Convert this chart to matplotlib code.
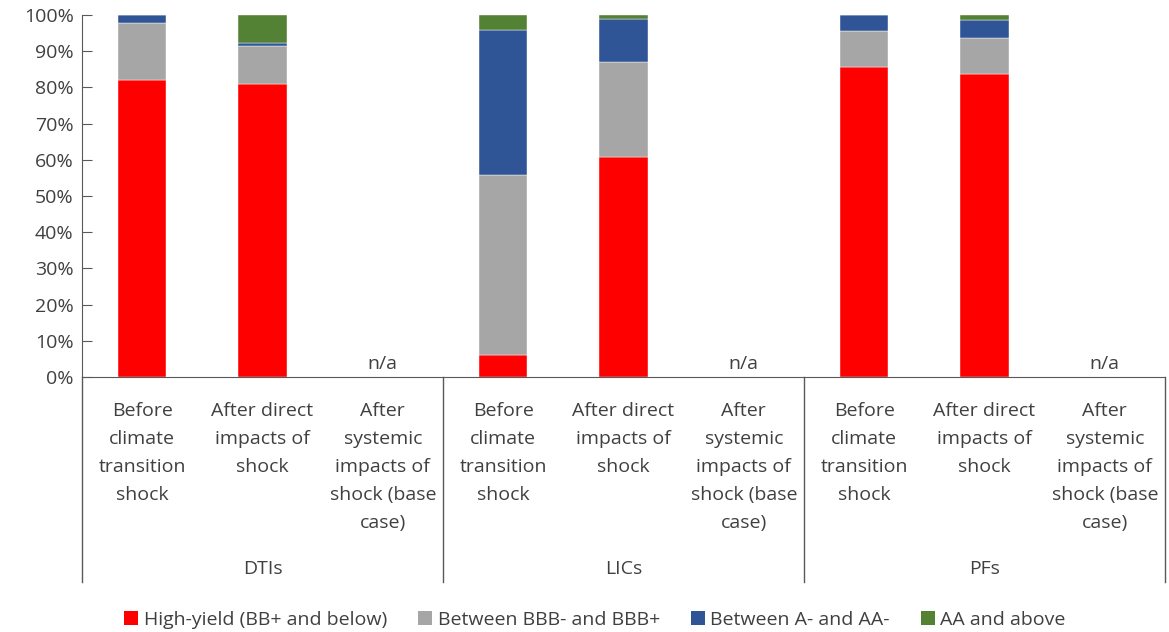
import numpy as np
import matplotlib.pyplot as plt
from matplotlib.patches import Patch

plt.rcParams['font.family'] = ['Open Sans', 'DejaVu Sans']

groups = ['DTIs', 'LICs', 'PFs']
stages = ['Before\nclimate\ntransition\nshock',
          'After direct\nimpacts of\nshock',
          'After\nsystemic\nimpacts of\nshock (base\ncase)']
series = ['High-yield (BB+ and below)', 'Between BBB- and BBB+',
          'Between A- and AA-', 'AA and above']
colors = ['#ff0000', '#a6a6a6', '#2f5597', '#548235']

# shares in %, 9 bars (3 stages x 3 groups); systemic stage is n/a
high_yield = [82.0, 81.0, np.nan, 6.1, 60.8, np.nan, 85.5, 83.6, np.nan]
bbb = [15.8, 10.4, np.nan, 49.7, 26.2, np.nan, 10.1, 10.1, np.nan]
a_aa = [2.2, 0.9, np.nan, 40.0, 11.8, np.nan, 4.4, 5.0, np.nan]
aa_above = [0.0, 7.7, np.nan, 4.2, 1.2, np.nan, 0.0, 1.3, np.nan]

txt = '#404040'
fig = plt.figure(figsize=(11.69, 6.32), dpi=100)
ax = fig.add_axes([0.0701, 0.4035, 0.9265, 0.5728])

x = np.arange(9)
bottom = np.zeros(9)
for vals, c in zip([high_yield, bbb, a_aa, aa_above], colors):
    v = np.nan_to_num(np.array(vals))
    ax.bar(x, v, 0.4, bottom=bottom, color=c, edgecolor='white', linewidth=0.3)
    bottom += v

for i in range(9):
    if np.isnan(high_yield[i]):
        ax.text(i, 1.0, 'n/a', ha='center', va='bottom', fontsize=14, color=txt)

ax.set_xlim(-0.5, 8.5)
ax.set_ylim(0, 100)
ax.set_yticks(np.arange(0, 101, 10))
ax.set_yticklabels([f'{t}%' for t in range(0, 101, 10)], fontsize=14, color=txt)
ax.tick_params(axis='y', direction='in', length=7, color='#595959', pad=6)
ax.set_xticks([])
for s in ['top', 'right']:
    ax.spines[s].set_visible(False)
for s in ['left', 'bottom']:
    ax.spines[s].set_color('#595959')

trans = ax.get_xaxis_transform()
for b in [-0.5, 2.5, 5.5, 8.5]:
    ax.plot([b, b], [0, -0.566], transform=trans, color='#595959', lw=1, clip_on=False)
for i in range(9):
    ax.text(i, -0.068, stages[i % 3], transform=trans, ha='center', va='top',
            fontsize=14, color=txt, linespacing=1.72)
for g, name in enumerate(groups):
    ax.text(3 * g + 1, -0.53, name, transform=trans, ha='center', va='center',
            fontsize=14, color=txt)

handles = [Patch(facecolor=c, label=s) for c, s in zip(colors, series)]
fig.legend(handles=handles, loc='center', bbox_to_anchor=(0.509, 0.019), ncol=4,
           frameon=False, fontsize=14, handlelength=0.7, handleheight=0.7,
           handletextpad=0.3, columnspacing=1.6, labelcolor=txt)

fig.savefig('out.png', dpi=100)
